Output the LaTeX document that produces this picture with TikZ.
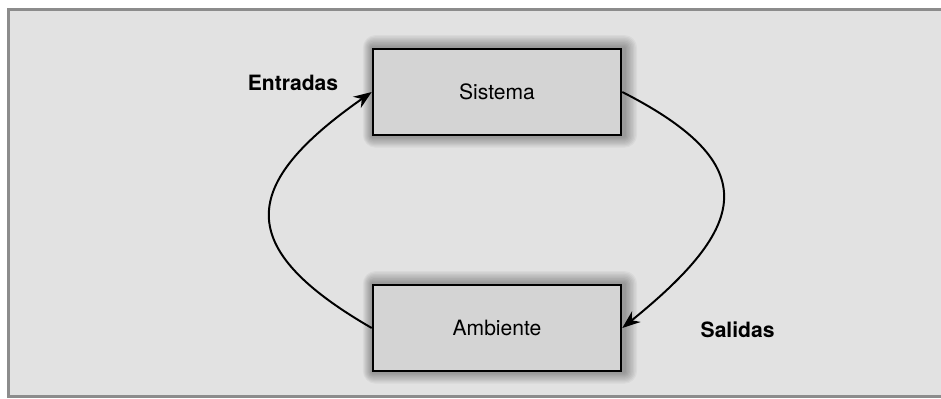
\documentclass[tikz,border=0pt]{standalone}
\usepackage{fontspec}
\setmainfont{TeX Gyre Heros}
\usetikzlibrary{arrows.meta,backgrounds}
\definecolor{panelgray}{HTML}{E2E2E2}
\definecolor{framegray}{HTML}{8C8C8C}
\definecolor{boxgray}{HTML}{D4D4D4}
\begin{document}
\begin{tikzpicture}[scale=1.0,
    >={Stealth[length=4.5mm,width=3.4mm]},
    block/.style={draw=black, line width=1.8pt, fill=boxgray,
      minimum width=6.2cm, minimum height=2.15cm,
      font=\fontsize{15}{18}\selectfont},
    flow/.style={anchor=base, font=\bfseries\fontsize{15}{18}\selectfont}]
  \useasboundingbox (0,0) rectangle (23.525,-9.95);
  \clip (0,0) rectangle (23.525,-9.95);
  % the two blocks
  \node[block] (sistema)  at (12.425,-2.3) {Sistema};
  \node[block] (ambiente) at (12.425,-8.2) {Ambiente};
  % flow labels
  \node[flow] (entradas) at (7.325,-2.25) {Entradas};
  \node[flow] (salidas)  at (18.44,-8.44) {Salidas};
  % inputs and outputs
  \draw[->, line width=1.4pt] (ambiente.west)
     to[out=150, in=215, looseness=1.75] (sistema.west);
  \draw[->, line width=1.4pt] (sistema.east)
     to[out=-27, in=39, looseness=1.75] (ambiente.east);
  \begin{scope}[on background layer]
    % grey panel with its frame (open on the right)
    \draw[line width=0.075cm, draw=framegray, fill=panelgray]
       (0.2125,-0.2375) rectangle (24,-9.9125);
    % soft shadow round the blocks
    \foreach \n in {sistema,ambiente}
      \foreach \r in {1,...,9}
        \fill[black, opacity=0.038, rounded corners={\r*1pt}]
          ([shift={({-\r*0.7pt},{\r*1pt})}]\n.north west) rectangle
          ([shift={({\r*1pt+1.5pt},{-\r*0.9pt})}]\n.south east);
  \end{scope}
\end{tikzpicture}
\end{document}
